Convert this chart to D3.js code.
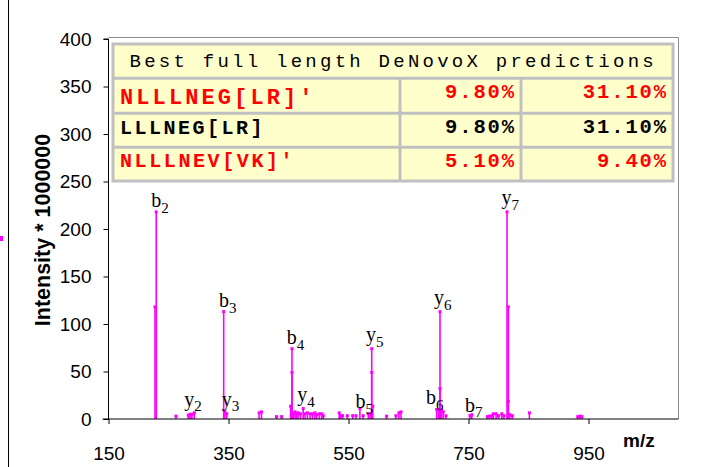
<!DOCTYPE html>
<html>
<head>
<meta charset="utf-8">
<script src="https://cdn.jsdelivr.net/npm/d3@7/dist/d3.min.js"></script>
<style>
  html, body { margin: 0; padding: 0; background: #ffffff; }
  svg { display: block; }
</style>
</head>
<body>
<svg id="chart" width="712" height="467"></svg>
<script>
// Peak list: [m/z, intensity (x 1,000,000)]
const peakMz = [
  227.5, 229.5,
  262.5, 283, 286, 289, 293,
  342, 344, 347,
  401, 405,
  430, 438.5,
  453.5, 455.8, 455.8, 458, 461, 463.5, 466, 470, 474.5, 477.5, 481.5, 486, 490, 494, 497, 501.5, 505.5, 508,
  534.5, 537, 540, 548, 557, 562.5, 569, 574.5, 583, 586, 588.7, 588.7, 590.5,
  613.5, 629, 634, 637.5,
  697, 700, 702.5, 702.5, 705, 708, 712.5,
  752.5, 755.5,
  781.5, 785, 789, 791.5, 796, 800, 805.5, 809, 814.2, 816.3, 816.3, 819, 823,
  851.5,
  932, 936, 939
];
const peakIntensity = [
  118, 218,
  3, 4, 5, 5, 6.5,
  113, 7.5, 5.5,
  6.5, 7.5,
  2.5, 2.5,
  13.5, 74, 49, 5.5, 7.5, 5.5, 6.5, 5.5, 11, 5.5, 6.5, 5.5, 5.5, 6.5, 4.5, 5.5, 5.5, 3.5,
  6.5, 3.5, 3.5, 3.5, 3.5, 3.5, 11, 3.5, 5.5, 5.5, 74, 49, 13.5,
  3, 3.5, 6.5, 7.5,
  10, 9.5, 113, 32, 9.5, 7.5, 3.5,
  3.5, 4.5,
  2.5, 3, 3.5, 5.5, 5.5, 3.5, 5.5, 3.5, 218, 118, 18.5, 4.5, 3.5,
  6.5,
  2.5, 3, 2.5
];

// Fragment ion annotations: ion type, index, m/z, intensity
const ionType  = ["b", "y", "b", "y", "b", "y", "b", "y", "b", "y", "b", "y"];
const ionIndex = ["2", "2", "3", "3", "4", "4", "5", "5", "6", "6", "7", "7"];
const ionMz    = [229.5, 284.7, 342.5, 347, 455.3, 473, 570, 587.5, 687.5, 701, 752.5, 813.5];
const ionInt   = [218, 6, 113, 6, 74, 11, 6.5, 74, 11, 113, 3, 218];

// Axis ticks
const xTicks = [150, 350, 550, 750, 950];
const yTicks = [0, 50, 100, 150, 200, 250, 300, 350, 400];

// Prediction table
const tableTitle = "Best full length DeNovoX predictions";
const predSequence = ["NLLLNEG[LR]'", "LLLNEG[LR]", "NLLLNEV[VK]'"];
const predScoreA = ["9.80%", "9.80%", "5.10%"];
const predScoreB = ["31.10%", "31.10%", "9.40%"];
const predColor = ["#ff0000", "#000000", "#ff0000"];

const svg = d3.select("#chart");
const plot = { left: 108.5, right: 678.5, top: 37.5, bottom: 419 };

const x = d3.scaleLinear().domain([150, 1100]).range([plot.left, plot.right]);
const y = d3.scaleLinear().domain([0, 400]).range([plot.bottom, 39]);

// outer frame edge
svg.append("line").attr("x1", 8.5).attr("x2", 8.5).attr("y1", 0).attr("y2", 467)
  .attr("stroke", "#000").attr("stroke-width", 1);
// clipped series key at the left edge
svg.append("rect").attr("x", 0).attr("y", 236).attr("width", 3).attr("height", 5).attr("fill", "#ff00ff");

// plot area border
svg.append("path")
  .attr("d", `M${plot.left},${plot.top}H${plot.right}V${plot.bottom}`)
  .attr("fill", "none").attr("stroke", "#8c8c8c").attr("stroke-width", 1);

// peaks
const peaks = peakMz.map((m, i) => ({ mz: m, v: peakIntensity[i] }));
const g = svg.append("g");
g.selectAll("line.peak").data(peaks).join("line")
  .attr("class", "peak")
  .attr("x1", d => x(d.mz)).attr("x2", d => x(d.mz))
  .attr("y1", y(0)).attr("y2", d => y(d.v))
  .attr("stroke", "#ff00ff").attr("stroke-width", 1.6);
g.selectAll("rect.tip").data(peaks).join("rect")
  .attr("class", "tip")
  .attr("x", d => x(d.mz) - 1.5).attr("y", d => y(d.v) - 1.5)
  .attr("width", 3).attr("height", 3)
  .attr("fill", "#ff00ff");

// axes
const yAxis = d3.axisLeft(y).tickValues(yTicks).tickSize(5).tickPadding(12).tickFormat(d3.format("d"));
const yg = svg.append("g").attr("transform", `translate(${plot.left},0)`).call(yAxis);
yg.select(".domain").attr("d", `M-5,${y(400)}H0V${plot.bottom}`);
yg.selectAll("text").attr("font-family", "Liberation Sans, Arial, sans-serif").attr("font-size", 19).attr("fill", "#000");

const xAxis = d3.axisBottom(x).tickValues(xTicks).tickSize(5).tickPadding(23).tickFormat(d3.format("d"));
const xg = svg.append("g").attr("transform", `translate(0,${plot.bottom})`).call(xAxis);
xg.select(".domain").attr("d", `M${plot.left - 6},0H${plot.right}`);
xg.selectAll("text").attr("font-family", "Liberation Sans, Arial, sans-serif").attr("font-size", 19).attr("fill", "#000");
svg.selectAll(".tick line").attr("stroke", "#000");

// axis titles
svg.append("text")
  .attr("transform", `translate(50,230) rotate(-90)`)
  .attr("text-anchor", "middle")
  .attr("font-family", "Liberation Sans, Arial, sans-serif")
  .attr("font-weight", "bold").attr("font-size", 21.5)
  .text("Intensity * 1000000");
svg.append("text")
  .attr("x", 623).attr("y", 447)
  .attr("font-family", "Liberation Sans, Arial, sans-serif")
  .attr("font-weight", "bold").attr("font-size", 19)
  .text("m/z");

// ion labels
const ions = ionType.map((t, i) => ({ t, n: ionIndex[i], mz: ionMz[i], v: ionInt[i] }));
const lab = svg.append("g").selectAll("text").data(ions).join("text")
  .attr("x", d => x(d.mz) - 5)
  .attr("y", d => y(d.v) - (d.t === "b" ? 4.5 : 7.5))
  .attr("font-family", "Liberation Serif, Times New Roman, serif")
  .attr("font-size", 20).attr("fill", "#000");
lab.append("tspan").text(d => d.t);
lab.append("tspan").attr("dy", 5.5).attr("font-size", 15).text(d => d.n);

// prediction table
const tb = { x0: 113, x1: 400, x2: 521, x3: 673, rows: [44, 78.3, 113.3, 147.3, 181] };
const tg = svg.append("g");
tg.append("rect").attr("x", tb.x0).attr("y", tb.rows[0])
  .attr("width", tb.x3 - tb.x0).attr("height", tb.rows[4] - tb.rows[0])
  .attr("fill", "#ffffcc").attr("stroke", "#c0c0c0").attr("stroke-width", 3);
[1, 2, 3].forEach(r => {
  tg.append("line").attr("x1", tb.x0).attr("x2", tb.x3)
    .attr("y1", tb.rows[r]).attr("y2", tb.rows[r])
    .attr("stroke", "#c0c0c0").attr("stroke-width", 3);
});
[tb.x1, tb.x2].forEach(cx => {
  tg.append("line").attr("x1", cx).attr("x2", cx)
    .attr("y1", tb.rows[1]).attr("y2", tb.rows[4])
    .attr("stroke", "#c0c0c0").attr("stroke-width", 3);
});
const mono = "Liberation Mono, Courier New, monospace";
tg.append("text").attr("x", 129.5).attr("y", 67)
  .attr("font-family", mono).attr("font-size", 19).attr("letter-spacing", 3.25)
  .attr("fill", "#000").text(tableTitle);

const seqBase = [104, 134, 166.7];
const scoreBase = [97.7, 133.3, 166.7];
const seqSize = [22, 20, 20];
const seqSpacing = [3.1, 2.5, 2.6];
predSequence.forEach((s, i) => {
  tg.append("text").attr("x", 120).attr("y", seqBase[i])
    .attr("font-family", mono).attr("font-weight", "bold")
    .attr("font-size", seqSize[i]).attr("letter-spacing", seqSpacing[i])
    .attr("fill", predColor[i]).text(s);
  [[predScoreA[i], 514], [predScoreB[i], 666]].forEach(([t, xe]) => {
    tg.append("text").attr("x", xe + 2).attr("y", scoreBase[i])
      .attr("text-anchor", "end")
      .attr("font-family", mono).attr("font-weight", "bold")
      .attr("font-size", 20.5).attr("letter-spacing", 1.9)
      .attr("fill", predColor[i]).text(t);
  });
});
</script>
</body>
</html>
